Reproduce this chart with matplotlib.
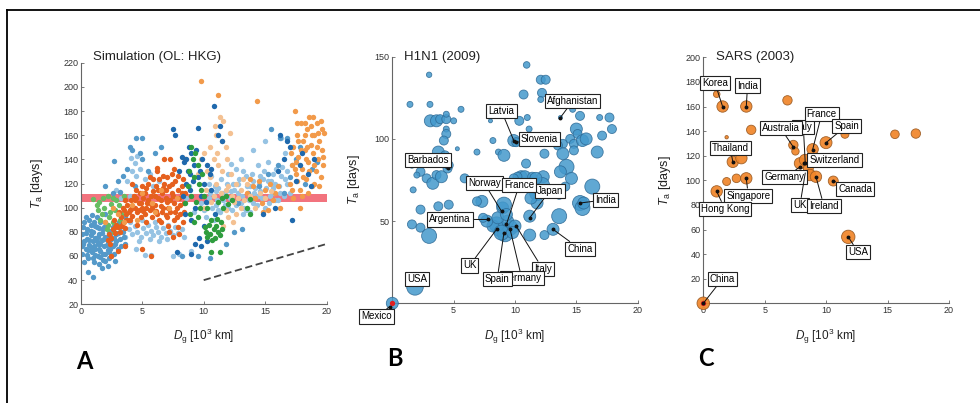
import numpy as np
import matplotlib
matplotlib.use("Agg")
import matplotlib.pyplot as plt
from matplotlib.lines import Line2D

plt.rcParams['font.family'] = ['Liberation Sans', 'DejaVu Sans']
plt.rcParams['mathtext.fontset'] = 'custom'
plt.rcParams['mathtext.rm'] = 'Liberation Sans'
plt.rcParams['mathtext.it'] = 'Liberation Sans:italic'

# ---------------- Panel A data (simulation, OL: HKG) ----------------
sim_lightblue = [(3.6,76),(3.9,82),(4.2,78),(4.4,85),(4.6,80),(4.9,76),(5.1,83),(5.3,79),(5.5,86),(5.7,81),
    (5.9,77),(6.1,84),(6.3,80),(6.5,76),(6.7,83),(6.9,79),(7.1,86),(7.3,81),(7.5,77),(7.7,84),(7.9,79),(8.2,82),
    (8.4,76),(4.0,88),(5.0,90),(6.0,88),(7.0,74),(5.6,74),(4.7,72),(6.4,72),
    (4.2,130),(4.4,137),(4.6,143),(4.8,132),(4.5,126),(4.1,141),(3.8,122),(5.2,124),(5.6,128),(3.3,108),(2.9,115),
    (5.9,118),(6.4,122),(4.0,110),(5.2,61),(5.7,61),(7.5,60),(8.0,62),(9.0,64),(4.5,66),
    (10.0,98),(10.3,105),(10.5,112),(10.7,100),(10.9,118),(11.1,106),(11.3,96),(11.5,112),(11.7,102),(11.9,120),
    (12.1,108),(12.3,98),(12.5,115),(12.7,104),(12.9,124),(13.1,110),(13.3,100),(13.5,118),(13.7,106),(13.9,128),
    (14.1,112),(14.3,102),(14.5,120),(14.7,108),(14.9,130),(15.1,116),(15.3,104),(15.5,122),(15.7,112),(15.9,132),
    (16.1,118),(16.3,126),(16.5,110),(10.2,92),(10.8,90),(11.4,124),(12.0,128),(12.6,132),(13.2,95),(13.8,96),
    (14.4,135),(15.0,100),(16.0,106),(10.6,126),(11.8,114),(12.4,120),(13.6,112),(14.8,124),(15.6,128),(16.8,130),
    (17.2,135),(13.0,140),(14.0,148),(15.0,155),(16.6,145),(12.2,136),(11.0,102),(12.8,112),(14.2,116),(15.4,110),
    (8.6,108),(9.2,96),(9.8,104),(8.8,118),(16.3,158),(16.8,157),(13.4,126),(14.6,114),(15.8,120),(12.0,100),
    (11.2,116),(10.4,120),(16.4,134),(15.2,138),(13.0,104),(14.0,122),
    (10.4,108),(11.0,114),(11.6,106),(12.2,114),(12.8,120),(13.4,98),(14.0,104),(14.6,126),(15.2,122),(15.8,106),
    (16.2,112),(16.8,120),(11.2,98),(12.6,102),(13.8,118),(14.4,110),(15.6,116),(16.6,124),(17.0,112),(13.2,130)]
sim_blue = [(0.1,62),(0.2,70),(0.1,78),(0.3,88),(0.4,66),(0.5,74),(0.5,82),(0.6,58),(0.7,69),(0.8,77),(0.8,86),
    (0.9,63),(1.0,72),(1.0,80),(1.1,55),(1.2,66),(1.2,75),(1.3,84),(1.4,60),(1.4,70),(1.5,78),(1.6,88),(1.6,64),
    (1.7,73),(1.8,82),(1.8,57),(1.9,68),(2.0,76),(2.0,62),(2.1,86),(2.2,71),(2.3,79),(2.3,58),(2.4,66),(2.5,74),
    (2.6,84),(2.7,62),(2.8,70),(2.9,78),(3.0,66),(3.1,88),(3.2,74),(3.4,80),(3.6,70),(0.6,47),(1.0,43),(1.7,50),
    (2.2,52),(2.8,56),(0.3,55),(1.3,92),(0.9,94),(2.0,95),(3.6,92),(1.1,68),(1.3,72),(1.5,66),(1.7,79),(1.9,74),
    (2.1,69),(0.7,73),(0.4,79),(1.6,70),(2.4,77),(1.2,61),(2.6,68),(0.2,84),(0.9,67),(1.5,83),(2.2,65),(2.9,72),
    (1.8,62),(0.5,61),(1.1,88),(3.3,68),(2.5,60),
    (0.3,72),(0.6,65),(0.8,81),(1.0,58),(1.2,85),(1.4,76),(1.6,59),(1.9,84),(2.1,75),(2.3,63),(2.5,81),(2.7,75),
    (3.0,79),(3.2,84),(0.1,68),(0.4,92),(2.0,56),(1.5,53),(3.5,76),(0.7,90),
    (2.0,118),(2.7,139),(3.0,122),(3.4,126),(3.8,132),(4.0,150),(4.2,148),(4.5,158),(5.0,158),(4.8,145),(5.0,140),
    (6.0,145),(3.2,113),(2.6,112),(5.5,130),(6.5,150),(4.4,118),
    (15.5,165),(16.2,158),(16.8,158),(17.5,140),(16.0,135),(15.2,128),(17.0,125),(18.2,120),(18.8,132),(19.2,138),
    (14.5,118),(13.6,112),(12.8,104),(16.5,112),(17.8,150),(8.2,60),(9.5,60),(10.5,58),(11.8,70),(12.5,80),(13.1,82)]
sim_lightgreen = [(1.5,105),(1.8,108),(2.2,110),(2.5,103),(2.8,98),(1.7,95),(2.3,92),(2.6,88),(3.0,85),(2.1,82),
    (1.9,100),(3.3,95),(2.7,80),(1.4,98),(3.1,102),(2.4,96),(2.0,88),(3.5,110),(1.0,107),(2.9,106),(1.6,90),
    (2.2,86),(3.2,90),(2.6,108),(1.3,102)]
sim_red = [(2.2,73),(2.3,78),(2.5,75),(2.6,82),(2.8,79),(2.9,86),(2.4,70),(2.7,90),
    (3.0,84),(3.2,80),(3.3,92),(3.4,87),(3.5,98),(3.6,83),(3.7,95),(3.8,102),(3.9,90),(3.1,96),
    (4.0,98),(4.1,106),(4.2,93),(4.3,110),(4.4,100),(4.5,115),(4.6,96),(4.7,104),(4.8,112),(4.9,92),(4.2,120),
    (5.0,100),(5.1,108),(5.2,95),(5.3,116),(5.4,104),(5.5,120),(5.6,98),(5.7,110),(5.8,92),(5.9,114),(5.3,88),(5.6,125),
    (6.0,102),(6.1,118),(6.2,95),(6.3,108),(6.4,124),(6.5,88),(6.6,112),(6.7,100),(6.8,120),(6.9,94),(6.2,130),(6.5,106),
    (7.0,105),(7.1,85),(7.2,118),(7.3,96),(7.4,128),(7.5,110),(7.6,90),(7.7,122),(7.8,100),(7.9,115),(7.2,80),
    (7.5,76),(8.0,78),(7.6,132),(7.0,125),(8.0,108),(8.1,95),(8.2,118),(8.3,88),(8.4,104),(8.5,112),
    (6.8,140),(6.2,133),(5.7,60),(5.0,66),(2.5,60),(3.0,64),(3.6,68),(7.3,140),(8.5,140),
    (4.4,106),(5.8,100),(6.6,96),(7.4,112),(7.8,92),(6.3,115),(5.1,97),(4.7,98),(3.9,96),(7.1,100),(8.3,124),
    (6.9,108),(5.5,106),(4.0,90),(7.6,104),(6.0,110),(5.2,112),(7.9,84),(3.4,100),(6.7,126),
    (3.3,85),(3.7,90),(4.1,99),(4.5,108),(4.9,104),(5.3,100),(5.7,103),(6.1,97),(6.5,101),(6.9,115),(7.3,106),
    (7.7,96),(8.1,102),(5.0,118),(5.9,124),(6.4,90),(7.0,92),(7.9,126),(8.4,96),(4.6,86),(2.8,84),(3.6,106),
    (6.7,116),(7.4,120),(8.2,112)]
sim_orange = [(17.0,120),(17.2,135),(17.3,150),(17.4,180),(17.5,128),(17.6,160),(17.7,142),(17.8,115),(17.9,170),
    (18.0,132),(18.1,155),(18.2,148),(18.3,124),(18.4,165),(18.5,138),(18.6,175),(18.7,152),(18.8,118),(18.9,145),
    (19.0,160),(19.1,130),(19.2,170),(19.3,140),(19.4,155),(19.5,125),(19.6,148),(19.7,135),(19.8,162),(17.1,145),
    (17.6,122),(18.2,170),(18.9,175),(19.4,118),(18.0,110),(17.8,100),(18.5,112),(19.0,120),(17.3,108),(18.6,130),
    (19.2,150),(18.3,140),(17.7,155),(19.6,165),(18.8,160),(17.4,132),
    (17.2,115),(17.5,138),(17.9,148),(18.1,125),(18.4,150),(18.7,168),(19.0,135),(19.3,162),(19.7,142),(18.2,160),
    (17.6,170),(19.5,172),
    (13.5,112),(14.0,118),(14.2,108),(14.5,122),(14.7,104),(15.0,115),(15.2,98),(15.4,120),(15.6,106),(15.8,112),
    (14.8,96),(16.0,118),(13.8,124),(16.2,100),
    (3.0,95),(3.5,88),(4.2,102),(5.0,112),(5.8,104),(6.5,115),(7.2,100),(7.8,108),(4.6,90),(6.0,96),(2.6,100),
    (2.0,88),(9.8,205),(14.3,188),(11.2,193)]
sim_tan = [(11.3,175),(11.6,172),(11.0,160),(11.5,155),(11.8,150),(10.5,150),(10.0,145),(9.8,140),(10.8,140),
    (11.2,135),(11.5,130),(10.3,130),(10.5,125),(11.0,120),(12.0,118),(11.8,115),(10.2,115),(10.8,110),(12.3,110),
    (12.5,105),(13.0,115),(13.5,120),(13.0,100),(12.6,95),(11.8,98),(10.0,100),(11.1,145),(11.9,140),(12.2,128),
    (10.6,105),(11.4,112),(12.8,108),(13.3,106),(13.8,110),(14.2,100),(14.6,112),(15.0,108),(15.5,114),(12.0,92),
    (12.4,88),(11.6,85),(9.5,128),(12.1,162),(10.9,168),(12.6,120),(13.2,124)]
sim_darkblue = [(7.5,165),(7.7,160),(9.5,166),(10.8,184),(11.3,168),(11.2,160),(11.5,155),(8.8,150),(9.0,145),
    (8.6,140),(9.2,135),(8.7,130),(9.5,125),(10.0,120),(8.9,115),(9.8,110),(10.2,105),(9.3,100),(8.5,95),(9.0,90),
    (10.0,85),(9.6,75),(9.3,70),(10.3,72),(8.4,138),(8.2,142),(9.4,148),(9.9,140),(10.3,135),(8.9,128),(9.7,130),
    (10.5,128),(8.6,120),(9.1,122),(10.6,115),(8.3,110),(10.9,95),(7.8,63),(9.0,62),(9.8,68),(10.6,132),
    (15.8,100),(14.8,95),(17.2,90),(16.5,140),(17.8,135),(18.5,128),(19.0,140),(18.0,145),(17.0,150),(16.0,130),
    (18.7,118),(17.5,122),(16.2,160),(16.8,155),(8.0,130)]
sim_green = [(9.0,150),(9.3,145),(9.1,140),(9.5,135),(8.8,130),(9.2,125),(9.6,120),(9.8,115),(9.0,110),(9.4,105),
    (9.7,100),(8.9,95),(9.5,92),(10.0,110),(10.3,100),(8.7,118),(9.9,128),(10.2,80),(10.5,78),(10.8,82),(11.0,85),
    (11.2,80),(10.4,86),(10.6,90),(11.4,88),(10.9,75),(11.3,77),(10.1,84),(10.7,73),(11.1,91),(10.3,76),(11.5,82),
    (11.2,105),(11.5,108),(11.8,110),(12.0,103),(12.3,106),(11.6,100),(13.8,107),(13.5,100),(13.8,95),(10.6,63),
    (11.3,63),(8.5,104),(9.2,88)]
sim_mean_band = (105, 111)
sim_slope_line_x = [10, 20]
sim_slope_line_y = [40, 70]

# ---------------- Panel B data (H1N1 2009) ----------------
h1_x = [10.95,3.0,1.44,3.07,5.6,10.7,12.2,12.1,12.5,12.1,14.7,13.7,10.35,8.0,11.15,15.3,16.9,17.7,17.9,17.1,15.0,15.1,
        14.5,14.8,15.5,15.8,13.9,13.5,16.7,13.9,14.2,13.7,14.6,14.8,12.4,9.9,10.1,8.2,8.65,9.1,10.9,10.5,10.8,10.2,
        11.4,9.9,12.3,12.2,11.8,11.8,11.3,13.6,14.1,16.3,15.3,15.5,15.6,13.6,11.2,13.1,12.4,11.2,7.3,7.3,9.0,9.1,
        8.8,9.2,9.6,8.5,9.4,8.2,7.7,7.4,8.9,10.0,9.8,8.6,9.3,3.1,3.6,3.9,4.4,4.4,4.4,4.4,4.2,5.0,5.3,6.9,3.75,4.3,
        1.6,2.3,2.3,2.0,2.8,3.3,3.6,4.0,4.5,4.6,1.7,2.3,3.75,4.6,1.6,2.3,3.0,3.3,1.85,0.0,5.9,6.9,11.0,11.7]
h1_y = [145,139,121,121,118,127,128,136,136,124,118,113,111,111,106,114,113,113,106,102,106,103,
        100,97,99,100,97,96,92,91,83,80,76,93,91,99,98,99,92,90,85,77,77,77,
        77,76,77,72,67,61,64,66,71,71,61,58,61,53,53,45,41.5,41.5,72,62,58,60,
        45,42,46,48,50,47,50,52,43,47,43,52,54,111,111,112,112,115,106,103,99,111,94,92,92,90,
        84,85,80,78,76,73,78,77,82,84,69,57,59,60,48,46,41,49,10,0,76,62,113,76]
h1_r = [3.3,2.7,3,3,3,4.5,4.5,4.5,4.5,3,3,2,4.5,2,3,4.5,3,4.5,4.5,4.5,6,4.5,
        4.5,4.5,6,6,4.5,4.5,6,6,7.5,6,6,4.5,4.5,6,4.5,3,3,6,4.5,6,6,4.5,
        4.5,4.5,6,7.5,7.5,6,6,4.5,4.5,7.5,7.5,7.5,6,7.5,6,6,4.5,6,4.5,6,6,7.5,
        7.5,7.5,7.5,7.5,6,6,6,4.5,7.5,6,6,6,6,6,6,4.5,4.5,3,3,4.5,4.5,3,2,3,6,4.5,
        3,4.5,4.5,3,4.5,6,4.5,6,4.5,4.5,3,4.5,4.5,4.5,4.5,4.5,7.5,3,8.3,6,4.5,4.5,3,6]
h1_labels = [("Latvia", 8.9, 117, 9.9, 99), ("Afghanistan", 14.7, 123, 13.7, 113),
             ("Slovenia", 12.0, 100, 10.1, 98), ("Barbados", 2.9, 87, 4.5, 82),
             ("Norway", 7.5, 73, 8.9, 56), ("Japan", 12.85, 68.5, 11.2, 52),
             ("France", 10.35, 72, 9.3, 48), ("India", 17.4, 63, 15.3, 61),
             ("Argentina", 4.7, 51, 7.8, 51), ("China", 15.3, 33, 13.1, 45),
             ("UK", 6.3, 23, 8.5, 45), ("Italy", 12.25, 21, 10.1, 47),
             ("Germany", 10.55, 15.2, 9.6, 45), ("Spain", 8.55, 14.6, 9.1, 43),
             ("USA", 2.0, 15, None, None), ("Mexico", -1.3, -8, -0.2, -2)]

# ---------------- Panel C data (SARS 2003) ----------------
sars_x = [1.09,1.57,3.5,6.85,3.9,1.9,7.33,7.5,8.9,9.99,11.53,15.6,17.3,2.4,3.1,7.87,8.28,8.55,8.69,9.17,10.58,
          1.9,2.7,3.5,1.09,11.8,0.0]
sars_y = [170,160,160,165,141,135,128.7,123.5,125.2,130.6,137.4,137.4,138,115,118,113.8,116.5,109.7,104.3,102.9,99.4,
          99,101.6,101.6,91,54,0]
sars_r = [3.3,5.7,5.7,4.7,4.7,1.7,4.7,3.7,5.7,6.0,4.0,4.3,4.7,5.7,5.7,5.7,5.7,5.0,5.7,5.7,5.0,
          4.0,4.3,5.7,5.7,6.7,6.3]
sars_labels = [("Korea", 0.95, 179, 1.57, 160), ("India", 3.6, 177, 3.5, 160),
               ("Italy", 8.14, 143.6, 8.3, 114), ("Australia", 6.3, 142.3, 7.33, 127),
               ("France", 9.64, 153.9, 8.9, 125), ("Spain", 11.67, 144.4, 9.99, 130.6),
               ("Thailand", 2.2, 126, 2.4, 115), ("Switzerland", 10.67, 116.3, 8.2, 114),
               ("Germany", 6.6, 102.4, 7.9, 111), ("Canada", 12.35, 93.2, 10.58, 99.4),
               ("Singapore", 3.66, 87.5, 3.5, 101.6), ("Hong Kong", 1.76, 76.7, 1.09, 91),
               ("UK", 7.87, 79.9, 8.3, 106), ("Ireland", 9.82, 79.1, 9.17, 102.9),
               ("USA", 12.6, 41.5, 11.8, 54), ("China", 1.57, 20, 0.0, 0)]

# ---------------- figure ----------------
fig = plt.figure(figsize=(9.8, 4.03), dpi=100)
W, H = 980, 403

def axes_px(l, r, t, b):
    return fig.add_axes([l / W, 1 - b / H, (r - l) / W, (b - t) / H])

def style(ax):
    for s in ('top', 'right'):
        ax.spines[s].set_visible(False)
    for s in ('left', 'bottom'):
        ax.spines[s].set_color('#666666')
        ax.spines[s].set_linewidth(0.8)
    ax.tick_params(direction='in', length=2.5, width=0.6, colors='#666666',
                   labelcolor='#333333', labelsize=6.5, pad=1.8)
    ax.set_xlabel(r'$\mathit{D}_\mathrm{g}$ [10$^3$ km]', fontsize=8.5, color='#222222')
    ax.set_ylabel(r'$\mathit{T}_\mathrm{a}$ [days]', fontsize=9, color='#222222')
    ax.xaxis.set_label_coords(0.5, -0.095)

S = lambda r: (1.44 * np.asarray(r, float)) ** 2

# Panel A
axA = axes_px(80.7, 326.7, 62.7, 304.3)
style(axA)
axA.set_xlim(0, 20)
axA.set_ylim(20, 220)
axA.set_xticks([0, 5, 10, 15, 20])
axA.set_yticks(np.arange(20, 221, 20))
axA.yaxis.set_label_coords(-0.145, 0.5)
axA.axhspan(sim_mean_band[0], sim_mean_band[1], color='#f2737e', zorder=1, lw=0)
groups = [(sim_lightblue, '#96c3e3'), (sim_blue, '#5499c9'), (sim_lightgreen, '#66bd63'),
          (sim_red, '#e5601e'), (sim_orange, '#f29a4a'), (sim_tan, '#f4c192'),
          (sim_darkblue, '#1f69ad'), (sim_green, '#2f9d3e')]
for pts, col in groups:
    a = np.array(pts)
    axA.scatter(a[:, 0], a[:, 1], s=15, color=col, lw=0, zorder=2)
axA.plot(sim_slope_line_x, sim_slope_line_y, color='#444444', lw=1.3, ls=(0, (4, 2)), zorder=3)
axA.text(0.05, 1.025, 'Simulation (OL: HKG)', transform=axA.transAxes, fontsize=9.5,
         color='#222222', ha='left', va='center')

def label_boxes(ax, labels):
    for name, lx, ly, px, py in labels:
        bb = dict(boxstyle='square,pad=0.22', fc='white', ec='#222222', lw=0.8)
        if px is None:
            ax.text(lx, ly, name, ha='center', va='center', fontsize=7, bbox=bb, zorder=6, clip_on=False)
        else:
            ax.annotate(name, xy=(px, py), xytext=(lx, ly), ha='center', va='center', fontsize=7,
                        bbox=bb, zorder=6, annotation_clip=False,
                        arrowprops=dict(arrowstyle='-', lw=0.7, color='#111111', shrinkA=0, shrinkB=0))
            ax.plot([px], [py], 'o', ms=1.8, color='#111111', zorder=5, clip_on=False)

# Panel B
axB = axes_px(392.3, 637.7, 56.7, 303.3)
style(axB)
axB.set_xlim(0, 20)
axB.set_ylim(0, 150)
axB.set_xticks([0, 5, 10, 15, 20])
axB.set_yticks([50, 100, 150])
axB.yaxis.set_label_coords(-0.123, 0.5)
axB.scatter(h1_x, h1_y, s=S(h1_r), facecolor='#4499cc', edgecolor='#2d6a96', lw=0.6, alpha=0.85,
            zorder=3, clip_on=False)
axB.scatter([0], [0], s=8, color='#e02020', zorder=4, clip_on=False)
label_boxes(axB, h1_labels)
axB.text(0.049, 1.0, 'H1N1 (2009)', transform=axB.transAxes, fontsize=9.5, color='#222222',
         ha='left', va='center')

# Panel C
axC = axes_px(703.3, 949.0, 57.3, 303.3)
style(axC)
axC.set_xlim(0, 20)
axC.set_ylim(0, 200)
axC.set_xticks([0, 5, 10, 15, 20])
axC.set_yticks(np.arange(20, 201, 20))
axC.yaxis.set_label_coords(-0.123, 0.5)
axC.scatter(sars_x, sars_y, s=S(sars_r), facecolor='#f0862a', edgecolor='#9a5a22', lw=0.6, alpha=0.92,
            zorder=3, clip_on=False)
axC.scatter([0], [0], s=8, color='#e02020', zorder=4, clip_on=False)
label_boxes(axC, sars_labels)
axC.text(0.052, 1.0, 'SARS (2003)', transform=axC.transAxes, fontsize=9.5, color='#222222',
         ha='left', va='center')

# panel letters
for txt, x, y in [('A', 84, 361.5), ('B', 395, 359), ('C', 706, 358.5)]:
    fig.text(x / W, 1 - y / H, txt, fontsize=17, fontweight='bold', family=['Lato', 'DejaVu Sans'],
             ha='center', va='center', color='black')

# outer frame (top and left edges visible)
fig.add_artist(Line2D([7 / W, 1.0], [1 - 9.5 / H, 1 - 9.5 / H], color='black', lw=1.3,
                      transform=fig.transFigure))
fig.add_artist(Line2D([7 / W, 7 / W], [0.0, 1 - 9.5 / H], color='black', lw=1.3,
                      transform=fig.transFigure))

fig.savefig('out.png', dpi=100, facecolor='white')
